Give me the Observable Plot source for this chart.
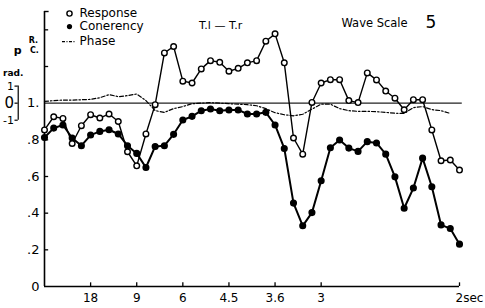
<!DOCTYPE html>
<html><head><meta charset="utf-8">
<script src="https://cdn.jsdelivr.net/npm/d3@7"></script>
<script src="https://cdn.jsdelivr.net/npm/@observablehq/plot@0.6"></script>
<style>body{margin:0;background:#fff} svg{display:block}</style>
</head><body><div id="chart"></div><script>
// frequency index k -> k/90 Hz (period = 90/k sec)
const freqIndex = d3.range(46);
const response = [0.854,0.926,0.917,0.78,0.877,0.937,0.919,0.941,0.90,0.735,0.658,0.832,0.992,1.274,1.309,1.12,
  1.11,1.187,1.232,1.223,1.174,1.19,1.22,1.232,1.338,1.378,1.22,0.81,0.722,1.004,1.11,1.128,
  1.128,1.014,1.003,1.165,1.127,1.066,1.027,0.964,1.019,1.019,0.854,0.686,0.690,0.635];
const coherency = [0.813,0.864,0.881,0.81,0.768,0.826,0.846,0.855,0.832,0.768,0.726,0.649,0.764,0.768,0.83,0.908,
  0.928,0.959,0.968,0.959,0.963,0.963,0.941,0.941,0.950,0.881,0.753,0.455,0.331,0.403,0.577,0.757,
  0.799,0.755,0.737,0.790,0.783,0.722,0.598,0.427,0.537,0.700,0.544,0.336,0.316,0.231];
// phase in radians
const phase = [0.1,0.15,0.18,0.18,0.2,0.22,0.32,0.5,0.38,0.44,0.54,0.15,-0.44,-0.54,-0.32,-0.2,
  -0.03,0,0.03,0,-0.03,-0.06,-0.09,-0.15,-0.32,-0.56,-0.68,-0.74,-0.65,-0.35,-0.06,-0.06,
  -0.32,-0.44,-0.48,-0.48,-0.5,-0.54,-0.59,-0.6,-0.26,-0.2,-0.38,-0.44,-0.6];
const xTicks = [5,10,15,20,25,30];
const xTickLabels = ["18","9","6","4.5","3.6","3"];
const xEndTick = 45, xEndLabel = "2sec";
const yTicks = [0.2,0.4,0.6,0.8,1.2,1.4];
const yLabelVals = [0,0.2,0.4,0.6,0.8,1.0];
const yTickLabels = ["0",".2",".4",".6",".8","1."];
const phaseTicks = [-1,0,1];
const phaseTickLabels = ["-1","0","1"];
const legendLabels = ["Response","Conerency","Phase"];
const PH = 0.093; // phase radians -> y units, centred on 1.0
const py = p => 1 + p*PH;
const F = "DejaVu Sans";

const phaseAxisX = -2.85;
const legendY = [1.489,1.418,1.336];

const chart = Plot.plot({
  width: 485, height: 308,
  marginLeft: 44, marginRight: 26, marginTop: 11, marginBottom: 22,
  x: {domain: [0,45], axis: null},
  y: {domain: [0,1.5], axis: null},
  style: {fontFamily: F, background: "white", color: "black"},
  marks: [
    Plot.ruleY([1], {x1: 0, x2: 45.3, stroke: "#222", strokeWidth: 1.2}),
    Plot.ruleX([0], {y1: 0, y2: 1.5, strokeWidth: 1.6}),
    Plot.ruleY([0], {x1: 0, x2: 45, strokeWidth: 1.6}),
    Plot.ruleY([1.5], {x1: 0, x2: 0.5, strokeWidth: 1.4}),
    Plot.ruleY(yTicks, {x1: 0, x2: 0.45, strokeWidth: 1.3}),
    Plot.text(yLabelVals, {x: 0, y: d => d, text: (d,i) => yTickLabels[i], dx: -5, textAnchor: "end", fontSize: 13}),
    Plot.ruleX(xTicks.concat([xEndTick]), {y1: 0, y2: 0.02, strokeWidth: 1.3}),
    Plot.text(xTicks, {x: d => d, y: 0, dy: 12, text: (d,i) => xTickLabels[i], fontSize: 12}),
    Plot.text([xEndTick], {x: d => d, y: 0, dy: 12, dx: -4, text: () => xEndLabel, textAnchor: "start", fontSize: 12}),
    // phase bracket axis
    Plot.ruleX([phaseAxisX], {y1: py(-1), y2: py(1), strokeWidth: 1.2}),
    Plot.ruleY(phaseTicks.map(py), {x1: phaseAxisX - 0.35, x2: phaseAxisX, strokeWidth: 1.2}),
    Plot.text(phaseTicks, {x: phaseAxisX - 0.45, y: d => py(d), text: (d,i) => phaseTickLabels[i], textAnchor: "end", fontSize: d => d === 0 ? 15 : 11}),
    Plot.text(["rad."], {x: -3.4, y: 1.165, fontSize: 9, fontWeight: "bold"}),
    Plot.text(["p"], {x: -2.9, y: 1.29, fontSize: 11, fontWeight: "bold"}),
    Plot.text(["R."], {x: -1.2, y: 1.34, fontSize: 8, fontWeight: "bold"}),
    Plot.text(["C."], {x: -1.1, y: 1.285, fontSize: 8, fontWeight: "bold"}),
    // data
    Plot.line(phase, {x: (d,i) => freqIndex[i], y: d => py(d), strokeWidth: 1.2, strokeDasharray: "4,2,1.5,2"}),
    Plot.line(coherency, {x: (d,i) => freqIndex[i], y: d => d, strokeWidth: 2}),
    Plot.dot(coherency, {x: (d,i) => freqIndex[i], y: d => d, r: 2.8, fill: "black", stroke: "black"}),
    Plot.line(response, {x: (d,i) => freqIndex[i], y: d => d, strokeWidth: 1.4}),
    Plot.dot(response, {x: (d,i) => freqIndex[i], y: d => d, r: 2.8, fill: "white", stroke: "black", strokeWidth: 1.4}),
    // legend
    Plot.dot([legendY[0]], {x: 2.71, y: d => d, r: 2.6, fill: "white", stroke: "black", strokeWidth: 1.4}),
    Plot.dot([legendY[1]], {x: 2.71, y: d => d, r: 2.6, fill: "black"}),
    Plot.ruleY([legendY[2]], {x1: 1.95, x2: 3.37, strokeWidth: 1.2, strokeDasharray: "3,1.5,1,1.5"}),
    Plot.text(legendLabels, {x: 3.8, y: (d,i) => legendY[i], textAnchor: "start", fontSize: 12}),
    // titles
    Plot.text(["T.l — T.r"], {x: 19.1, y: 1.424, fontSize: 11}),
    Plot.text(["Wave Scale"], {x: 32.2, y: 1.434, textAnchor: "start", fontSize: 11.5}),
    Plot.text(["5"], {x: 41.3, y: 1.44, textAnchor: "start", fontSize: 17})
  ]
});
document.getElementById("chart").appendChild(chart);
</script></body></html>
